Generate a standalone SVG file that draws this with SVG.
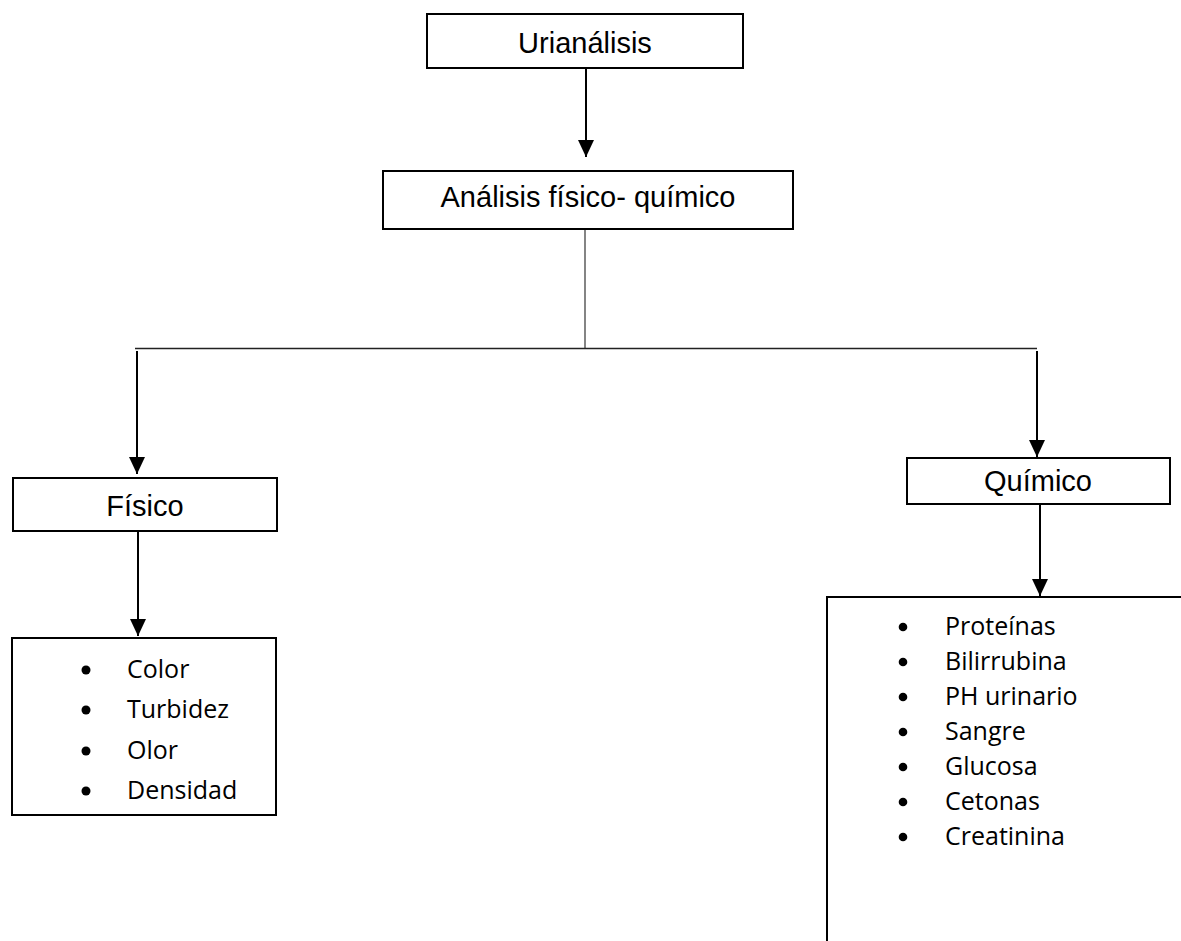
<svg xmlns="http://www.w3.org/2000/svg" width="1181" height="941" viewBox="0 0 1181 941">
<style>
.box{fill:#fff;stroke:#000;stroke-width:2}
.hd{font-family:"Liberation Sans",Arial,sans-serif;font-size:29px;fill:#000;text-anchor:middle}
.li{font-family:"Open Sans","Noto Sans",sans-serif;font-size:25px;fill:#000}
.ar{fill:none;stroke:#000;stroke-width:2}
.thin{fill:none;stroke:#333;stroke-width:1.2}
</style>
<defs>
<marker id="ah" markerUnits="userSpaceOnUse" markerWidth="17" markerHeight="17" viewBox="0 0 17 17" refX="17" refY="8.5" orient="auto">
<path d="M0,0.5 L17,8.5 L0,16.5 Z" fill="#000"/>
</marker>
</defs>
<rect width="1181" height="941" fill="#fff"/>
<g id="connectors">
<line class="ar" x1="586" y1="68" x2="586" y2="157" marker-end="url(#ah)"/>
<line class="thin" x1="585" y1="229" x2="585" y2="348"/>
<line x1="135" y1="348.5" x2="1037" y2="348.5" stroke="#222" stroke-width="1.6"/>
<line class="ar" x1="137" y1="351" x2="137" y2="474" marker-end="url(#ah)"/>
<line class="ar" x1="138" y1="531" x2="138" y2="636" marker-end="url(#ah)"/>
<line class="ar" x1="1037" y1="351" x2="1037" y2="457" marker-end="url(#ah)"/>
<line class="ar" x1="1040" y1="504" x2="1040" y2="596" marker-end="url(#ah)"/>
</g>
<g id="urianalisis">
<rect class="box" x="427" y="14" width="316" height="54"/>
<text class="hd" x="585" y="53">Urianálisis</text>
</g>
<g id="fisico-quimico">
<rect class="box" x="383" y="171" width="410" height="58"/>
<text class="hd" x="588" y="207">Análisis físico- químico</text>
</g>
<g id="fisico">
<rect class="box" x="13" y="478" width="264" height="53"/>
<text class="hd" x="145" y="516">Físico</text>
</g>
<g id="quimico">
<rect class="box" x="907" y="458" width="263" height="46"/>
<text class="hd" x="1038" y="491">Químico</text>
</g>
<g id="lista-fisico">
<rect class="box" x="12" y="638" width="264" height="177"/>
<circle cx="86" cy="670" r="4.5"/>
<circle cx="86" cy="710" r="4.5"/>
<circle cx="86" cy="751" r="4.5"/>
<circle cx="86" cy="791" r="4.5"/>
<text class="li" x="127" y="678">Color</text>
<text class="li" x="127" y="718">Turbidez</text>
<text class="li" x="127" y="759">Olor</text>
<text class="li" x="127" y="799">Densidad</text>
</g>
<g id="lista-quimico">
<rect class="box" x="827" y="597" width="400" height="400"/>
<circle cx="903" cy="627" r="4.3"/>
<circle cx="903" cy="662" r="4.3"/>
<circle cx="903" cy="697" r="4.3"/>
<circle cx="903" cy="732" r="4.3"/>
<circle cx="903" cy="767" r="4.3"/>
<circle cx="903" cy="802" r="4.3"/>
<circle cx="903" cy="837" r="4.3"/>
<text class="li" x="945" y="635">Proteínas</text>
<text class="li" x="945" y="670">Bilirrubina</text>
<text class="li" x="945" y="705">PH urinario</text>
<text class="li" x="945" y="740">Sangre</text>
<text class="li" x="945" y="775">Glucosa</text>
<text class="li" x="945" y="810">Cetonas</text>
<text class="li" x="945" y="845">Creatinina</text>
</g>
</svg>
